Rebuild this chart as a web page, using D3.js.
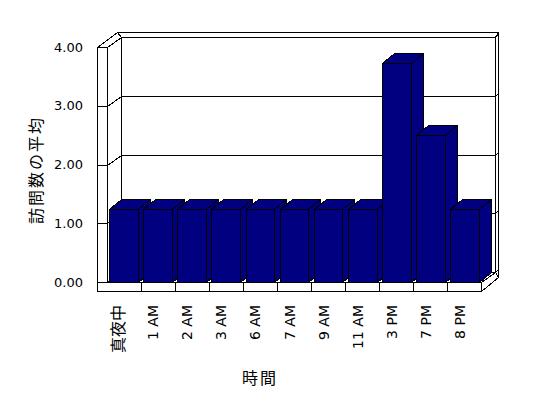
<!DOCTYPE html>
<html lang="ja">
<head>
<meta charset="UTF-8">
<title>訪問数の平均</title>
<script src="https://cdn.jsdelivr.net/npm/d3@7"></script>
<style>
body { margin: 0; background: #fff; }
text { font-family: "DejaVu Sans", "Noto Sans CJK JP", sans-serif; fill: #000; }
</style>
</head>
<body>
<script>
var categories = ["真夜中", "1 AM", "2 AM", "3 AM", "6 AM", "7 AM", "9 AM", "11 AM", "3 PM", "7 PM", "8 PM"];
var values = [1.25, 1.25, 1.25, 1.25, 1.25, 1.25, 1.25, 1.25, 3.73, 2.5, 1.25];
var yTicks = [0, 1, 2, 3, 4];
var yTitle = "訪問数の平均";
var xTitle = "時間";

var svg = d3.select("body").append("svg")
    .attr("width", 548)
    .attr("height", 398);

// layout of the 3d box
var wallX = 97, x0 = 107, x1 = 481, yTop = 47, yFloor = 282, yBase = 291;
var dx = 14, dy = 10;        // depth of floor and side wall
var barDx = 12, barDy = 10;  // depth of one column
var barColor = "#000080";

var x = d3.scaleBand().domain(categories).range([x0, x1])
    .paddingInner(0.15).paddingOuter(0.07);
var y = d3.scaleLinear().domain([0, 4]).range([yFloor, yTop]);

function p(v) { return Math.round(v) + 0.5; }
function pts(a) { return a.map(function(d) { return p(d[0]) + "," + p(d[1]); }).join(" "); }

function face(g, a, fill) {
    g.append("polygon")
        .attr("points", pts(a))
        .attr("fill", fill)
        .attr("stroke", "#000")
        .attr("stroke-width", 1)
        .attr("stroke-linejoin", "miter");
}

var box = svg.append("g").attr("shape-rendering", "crispEdges");

// walls and floor (inside faces)
face(box, [[x0, yTop], [x0 + dx, yTop - dy], [x0 + dx, yFloor - dy], [x0, yFloor]], "#fff");
face(box, [[x0 + dx, yTop - dy], [x1 + dx, yTop - dy], [x1 + dx, yFloor - dy], [x0 + dx, yFloor - dy]], "#fff");
face(box, [[x0, yFloor], [x0 + dx, yFloor - dy], [x1 + dx, yFloor - dy], [x1, yFloor]], "#fff");

// thickness of the walls
face(box, [[wallX, yTop], [x0, yTop], [x0 + dx, yTop - dy], [x0 + dx - 4, yTop - dy - 5]], "#fff");
face(box, [[x0 + dx - 4, yTop - dy - 5], [x1 + dx + 3, yTop - dy - 5], [x1 + dx, yTop - dy], [x0 + dx, yTop - dy]], "#fff");
face(box, [[x1 + dx, yTop - dy], [x1 + dx + 3, yTop - dy - 5], [x1 + dx + 3, yBase - 14], [x1 + dx, yFloor - dy]], "#fff");
face(box, [[x1, yFloor], [x1 + dx, yFloor - dy], [x1 + dx + 3, yBase - 14], [x1, yBase]], "#fff");

// gridlines across side wall and back wall
box.selectAll(".grid")
    .data(yTicks)
    .enter()
    .append("polyline")
    .attr("class", "grid")
    .attr("points", function(v) {
        var yy = y(v);
        return pts([[wallX, yy], [x0, yy], [x0 + dx, yy - dy], [x1 + dx, yy - dy], [x1 + dx + 3, yy - dy - 3]]);
    })
    .attr("fill", "none")
    .attr("stroke", "#000");

// columns
var bars = box.selectAll(".bar")
    .data(categories.map(function(c, i) { return { cat: c, value: values[i] }; }))
    .enter()
    .append("g")
    .attr("class", "bar");

bars.each(function(d) {
    var g = d3.select(this);
    var bx = x(d.cat), bw = x.bandwidth(), top = y(d.value), bot = y(0);
    face(g, [[bx + bw, top], [bx + bw + barDx, top - barDy], [bx + bw + barDx, bot - barDy], [bx + bw, bot]], barColor);
    face(g, [[bx, top], [bx + barDx, top - barDy], [bx + bw + barDx, top - barDy], [bx + bw, top]], barColor);
    face(g, [[bx, top], [bx + bw, top], [bx + bw, bot], [bx, bot]], barColor);
});

// front faces of side wall and floor
face(box, [[wallX, yTop], [x0, yTop], [x0, yFloor], [x1, yFloor], [x1, yBase], [wallX, yBase]], "#fff");
box.selectAll(".vtick")
    .data(yTicks)
    .enter()
    .append("line")
    .attr("x1", p(wallX)).attr("x2", p(x0))
    .attr("y1", function(v) { return p(y(v)); })
    .attr("y2", function(v) { return p(y(v)); })
    .attr("stroke", "#000");

var boundaries = categories.slice(1).map(function(c) {
    return x(c) - x.step() * x.paddingInner() / 2;
});
box.selectAll(".ctick")
    .data(boundaries)
    .enter()
    .append("line")
    .attr("x1", function(d) { return p(d); })
    .attr("x2", function(d) { return p(d); })
    .attr("y1", p(yFloor)).attr("y2", p(yBase))
    .attr("stroke", "#000");

// value axis labels
var yAxis = svg.append("g")
    .attr("transform", "translate(" + wallX + ",0)")
    .call(d3.axisLeft(y).tickValues(yTicks).tickFormat(d3.format(".2f")).tickSize(0).tickPadding(14));
yAxis.select(".domain").remove();
yAxis.selectAll("text")
    .attr("font-size", 13)
    .attr("font-family", "DejaVu Sans");

// category labels
var xAxis = svg.append("g")
    .attr("transform", "translate(0," + yBase + ")")
    .call(d3.axisBottom(x).tickSize(0));
xAxis.select(".domain").remove();
xAxis.selectAll("text")
    .attr("transform", "rotate(-90)")
    .attr("text-anchor", "end")
    .attr("x", -14)
    .attr("y", 0.5)
    .attr("dy", 0)
    .attr("font-family", "DejaVu Sans, Noto Sans CJK JP")
    .attr("font-size", function(d) { return /[^\x00-\x7f]/.test(d) ? 16 : 14; });

// titles
svg.append("text")
    .attr("transform", "translate(42,170) rotate(-90)")
    .attr("text-anchor", "middle")
    .attr("font-size", 16)
    .attr("letter-spacing", 2)
    .text(yTitle);

svg.append("text")
    .attr("x", 260)
    .attr("y", 384)
    .attr("text-anchor", "middle")
    .attr("font-size", 16)
    .attr("letter-spacing", 2)
    .text(xTitle);
</script>
</body>
</html>
